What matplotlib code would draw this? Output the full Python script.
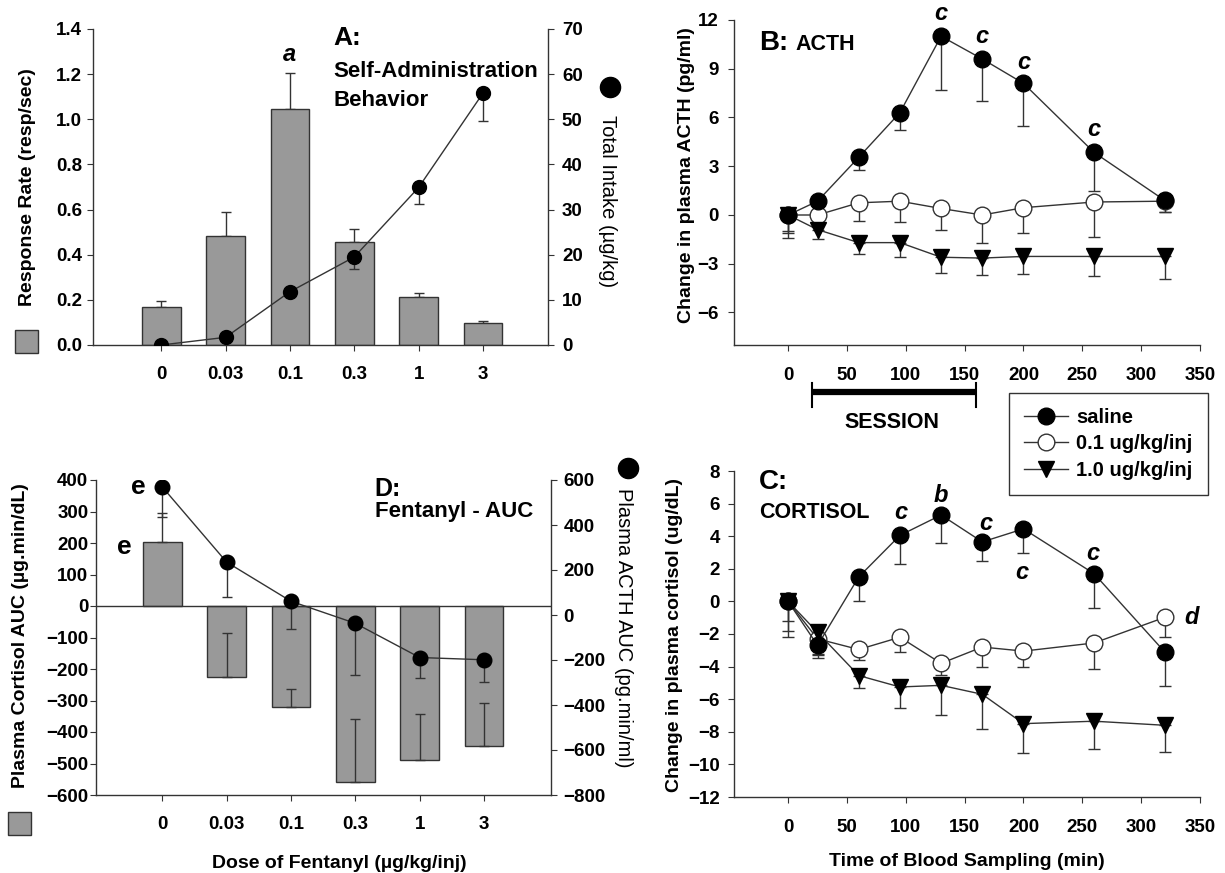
import numpy as np
import matplotlib
matplotlib.use('Agg')
import matplotlib.pyplot as plt
import matplotlib.transforms as mtransforms
from matplotlib.lines import Line2D
from matplotlib.patches import Rectangle

plt.rcParams['font.family'] = ['Liberation Sans', 'DejaVu Sans']
plt.rcParams['font.weight'] = 'bold'
plt.rcParams['axes.linewidth'] = 1.0
plt.rcParams['axes.edgecolor'] = '#333333'
plt.rcParams['xtick.direction'] = 'out'
plt.rcParams['ytick.direction'] = 'out'
plt.rcParams['xtick.major.size'] = 4
plt.rcParams['ytick.major.size'] = 4
plt.rcParams['xtick.color'] = '#333333'
plt.rcParams['ytick.color'] = '#333333'
plt.rcParams['xtick.labelcolor'] = 'black'
plt.rcParams['ytick.labelcolor'] = 'black'

# ---- data -------------------------------------------------------------
doses = ['0', '0.03', '0.1', '0.3', '1', '3']

# panel A: self-administration
rate = [0.167, 0.483, 1.047, 0.457, 0.212, 0.098]
rate_err = [0.030, 0.107, 0.158, 0.057, 0.020, 0.008]
intake = [0.0, 1.7, 11.8, 19.5, 34.9, 55.8]
intake_err = [0.0, 0.0, 0.8, 2.6, 3.7, 6.2]

# panels B and C: time course
times = [0, 25, 60, 95, 130, 165, 200, 260, 320]
acth_sal = [0.0, 0.85, 3.55, 6.3, 11.0, 9.6, 8.1, 3.85, 0.9]
acth_sal_err = [1.0, 0.3, 0.8, 1.05, 3.3, 2.6, 2.65, 2.4, 0.7]
acth_low = [0.0, 0.0, 0.75, 0.85, 0.4, 0.0, 0.45, 0.8, 0.85]
acth_low_err = [1.13, 0.3, 1.1, 1.3, 1.3, 1.75, 1.55, 2.15, 0.65]
acth_high = [0.0, -0.9, -1.7, -1.7, -2.6, -2.65, -2.55, -2.55, -2.55]
acth_high_err = [1.4, 0.6, 0.7, 0.9, 0.95, 1.05, 1.08, 1.2, 1.4]

cort_sal = [0.0, -2.7, 1.5, 4.05, 5.3, 3.65, 4.45, 1.7, -3.1]
cort_sal_err = [1.2, 0.75, 1.5, 1.75, 1.7, 1.2, 1.5, 2.1, 2.1]
cort_low = [0.0, -2.3, -2.95, -2.2, -3.8, -2.8, -3.05, -2.55, -0.98]
cort_low_err = [1.8, 0.9, 0.65, 0.9, 0.7, 1.2, 0.95, 1.6, 1.2]
cort_high = [0.0, -1.9, -4.55, -5.25, -5.15, -5.7, -7.5, -7.35, -7.6]
cort_high_err = [2.2, 1.4, 0.75, 1.3, 1.8, 2.1, 1.8, 1.7, 1.65]

# panel D: AUC
cort_auc = [204, -225, -320, -560, -489, -444]
cort_auc_err = [92, 138, 55, 200, 145, 135]
acth_auc = [569, 235, 61, -37, -189, -199]
acth_auc_err = [134, 156, 125, 228, 91, 98]

W, H = 1225, 873
fig = plt.figure(figsize=(W / 100, H / 100), dpi=100)

DARK = '#333333'
GREY = '#999999'
TICK_FS = 13.5
LAB_FS = 14


def box(l, t, r, b):
    return [l / W, 1 - b / H, (r - l) / W, (b - t) / H]


def down_err(ax, x, y, e, cap=4, z=3):
    ax.errorbar(x, y, yerr=[e, np.zeros(len(e))], fmt='none', ecolor=DARK,
                elinewidth=1, capsize=cap, capthick=1, zorder=z)


def up_err(ax, x, y, e, cap=4, z=3):
    ax.errorbar(x, y, yerr=[np.zeros(len(e)), e], fmt='none', ecolor=DARK,
                elinewidth=1, capsize=cap, capthick=1, zorder=z)


xs = np.arange(len(doses))

# ---- panel A ----------------------------------------------------------
axA = fig.add_axes(box(93, 29, 548, 345))
axA.bar(xs, rate, width=0.6, color=GREY, edgecolor=DARK, linewidth=1, zorder=2)
up_err(axA, xs, rate, rate_err, cap=3.5, z=1.5)
axA.set_xlim(-1.06, 6.01)
axA.set_ylim(0, 1.4)
axA.set_yticks(np.arange(0, 1.41, 0.2))
axA.set_yticklabels(['%.1f' % v for v in np.arange(0, 1.41, 0.2)])
axA.set_xticks(xs)
axA.set_xticklabels(doses)
axA.spines['top'].set_visible(False)
axA.spines['right'].set_visible(False)
axA.tick_params(axis='x', labelsize=TICK_FS, pad=11)
axA.tick_params(axis='y', labelsize=TICK_FS, pad=4)

axA2 = axA.twinx()
axA2.set_ylim(0, 70)
axA2.set_yticks(range(0, 71, 10))
down_err(axA2, xs, intake, intake_err, cap=3.5)
axA2.plot(xs, intake, '-o', color=DARK, lw=1, mfc='black', mec='black', ms=10, zorder=4)
for s in ['top', 'left', 'bottom']:
    axA2.spines[s].set_visible(False)
axA2.tick_params(axis='y', labelsize=TICK_FS, pad=6)

axA.text(2.67, 1.36, 'A:', fontsize=19, va='center')
axA.text(2.67, 1.21, 'Self-Administration', fontsize=16, va='center')
axA.text(2.67, 1.085, 'Behavior', fontsize=16, va='center')
axA.text(2, 1.285, 'a', fontsize=17, style='italic', ha='center', va='center')

# ---- panel B ----------------------------------------------------------
axB = fig.add_axes(box(734, 20, 1200, 345))
down_err(axB, times, acth_sal, acth_sal_err)
down_err(axB, times, acth_low, acth_low_err)
down_err(axB, times, acth_high, acth_high_err)
axB.plot(times, acth_sal, '-o', color=DARK, lw=1, mfc='black', mec='black', ms=12, zorder=5)
axB.plot(times, acth_low, '-o', color=DARK, lw=1, mfc='white', mec=DARK, ms=12, zorder=4)
axB.plot(times, acth_high, '-v', color=DARK, lw=1, mfc='black', mec='black', ms=12, zorder=4)
axB.set_xlim(-46, 350)
axB.set_ylim(-8, 12)
axB.set_xticks(range(0, 351, 50))
axB.set_yticks(range(-6, 13, 3))
axB.spines['top'].set_visible(False)
axB.spines['right'].set_visible(False)
axB.tick_params(axis='x', labelsize=TICK_FS, pad=12)
axB.tick_params(axis='y', labelsize=TICK_FS, pad=7)

axB.text(-25, 10.16, 'B:', fontsize=20, va='baseline')
axB.text(6, 10.16, 'ACTH', fontsize=15.5, va='baseline')
for tx, ty in [(130, 12.43), (165, 11.0), (200, 9.4), (260, 5.24)]:
    axB.text(tx, ty, 'c', fontsize=17, style='italic', ha='center', va='center', clip_on=False)

# session bar below the time axis
trB = mtransforms.blended_transform_factory(axB.transData, axB.transAxes)
axB.plot([20, 160], [-0.145, -0.145], color='black', lw=4.5, transform=trB, clip_on=False,
         solid_capstyle='butt')
for sx in [20, 160]:
    axB.plot([sx, sx], [-0.117, -0.191], color='black', lw=1.5, transform=trB, clip_on=False)
axB.text(88, -0.237, 'SESSION', fontsize=15.5, ha='center', va='center', transform=trB)

# ---- panel C ----------------------------------------------------------
axC = fig.add_axes(box(734, 471, 1200, 797))
down_err(axC, times, cort_sal, cort_sal_err)
down_err(axC, times, cort_low, cort_low_err)
down_err(axC, times, cort_high, cort_high_err)
hs, = axC.plot(times, cort_sal, '-o', color=DARK, lw=1, mfc='black', mec='black', ms=12, zorder=5)
hl, = axC.plot(times, cort_low, '-o', color=DARK, lw=1, mfc='white', mec=DARK, ms=12, zorder=4)
hh, = axC.plot(times, cort_high, '-v', color=DARK, lw=1, mfc='black', mec='black', ms=12, zorder=4)
axC.set_xlim(-46, 350)
axC.set_ylim(-12, 8)
axC.set_xticks(range(0, 351, 50))
axC.set_yticks(range(-12, 9, 2))
axC.spines['top'].set_visible(False)
axC.spines['right'].set_visible(False)
axC.tick_params(axis='x', labelsize=TICK_FS, pad=12)
axC.tick_params(axis='y', labelsize=TICK_FS, pad=6)

axC.text(-25, 7.35, 'C:', fontsize=20, va='center')
axC.text(-25, 5.43, 'CORTISOL', fontsize=15.5, va='center')
for tx, ty, tt in [(96, 5.43, 'c'), (130, 6.47, 'b'), (168, 4.76, 'c'),
                   (199, 1.76, 'c'), (259, 2.92, 'c'), (343, -0.99, 'd')]:
    axC.text(tx, ty, tt, fontsize=17, style='italic', ha='center', va='center')

fig.legend([hs, hl, hh], ['saline', '0.1 ug/kg/inj', '1.0 ug/kg/inj'],
           loc='upper left', bbox_to_anchor=(1009 / W, 1 - 393 / H), borderaxespad=0,
           frameon=True, fancybox=False, framealpha=1, edgecolor=DARK,
           handlelength=2.2, labelspacing=0.36, borderpad=0.75, handletextpad=0.4,
           prop={'weight': 'bold', 'size': 14.5})

# ---- panel D ----------------------------------------------------------
axD = fig.add_axes(box(96, 480, 551, 795))
axD.bar(xs, cort_auc, width=0.6, color=GREY, edgecolor=DARK, linewidth=1, zorder=2)
up_err(axD, xs, cort_auc, cort_auc_err, cap=3.5)
axD.axhline(0, color=DARK, lw=1, zorder=2.5)
axD.set_xlim(-1.03, 6.04)
axD.set_ylim(-600, 400)
axD.set_yticks(range(-600, 401, 100))
axD.set_xticks(xs)
axD.set_xticklabels(doses)
axD.spines['top'].set_visible(False)
axD.spines['right'].set_visible(False)
axD.tick_params(axis='x', labelsize=TICK_FS, pad=11)
axD.tick_params(axis='y', labelsize=TICK_FS, pad=1.5)

axD2 = axD.twinx()
axD2.set_ylim(-800, 600)
axD2.set_yticks(range(-800, 601, 200))
down_err(axD2, xs, acth_auc, acth_auc_err, cap=3.5)
axD2.plot(xs, acth_auc, '-o', color=DARK, lw=1, mfc='black', mec='black', ms=10.5, zorder=4)
for s in ['top', 'left', 'bottom']:
    axD2.spines[s].set_visible(False)
axD2.tick_params(axis='y', labelsize=TICK_FS, pad=5)

axD.text(3.30, 370, 'D:', fontsize=18, va='center')
axD.text(3.30, 300, 'Fentanyl - AUC', fontsize=16, va='center')
axD.text(-0.37, 379, 'e', fontsize=19, ha='center', va='center')
axD.text(-0.59, 188, 'e', fontsize=19, ha='center', va='center')

# ---- outer labels and key symbols -------------------------------------
fig.text(28 / W, 1 - 187 / H, 'Response Rate (resp/sec)', rotation=90,
         fontsize=LAB_FS, ha='center', va='center')
fig.text(608 / W, 1 - 201 / H, 'Total Intake (µg/kg)', rotation=-90,
         fontsize=14.5, fontweight='normal', ha='center', va='center')
fig.text(686 / W, 1 - 175 / H, 'Change in plasma ACTH (pg/ml)', rotation=90,
         fontsize=LAB_FS, ha='center', va='center')
fig.text(21 / W, 1 - 636 / H, 'Plasma Cortisol AUC (µg.min/dL)', rotation=90,
         fontsize=LAB_FS, ha='center', va='center')
fig.text(624 / W, 1 - 628 / H, 'Plasma ACTH AUC (pg.min/ml)', rotation=-90,
         fontsize=14.5, fontweight='normal', ha='center', va='center')
fig.text(674 / W, 1 - 635 / H, 'Change in plasma cortisol (ug/dL)', rotation=90,
         fontsize=LAB_FS, ha='center', va='center')
fig.text(339 / W, 1 - 863 / H, 'Dose of Fentanyl (µg/kg/inj)',
         fontsize=LAB_FS, ha='center', va='center')
fig.text(967 / W, 1 - 862 / H, 'Time of Blood Sampling (min)',
         fontsize=LAB_FS, ha='center', va='center')

fig.add_artist(Line2D([610 / W], [1 - 87 / H], marker='o', ms=14.5, color='black',
                      transform=fig.transFigure))
fig.add_artist(Line2D([628 / W], [1 - 468 / H], marker='o', ms=14.5, color='black',
                      transform=fig.transFigure))
fig.add_artist(Rectangle((15 / W, 1 - 353 / H), 23 / W, 23 / H, facecolor=GREY,
                         edgecolor=DARK, lw=1, transform=fig.transFigure))
fig.add_artist(Rectangle((8 / W, 1 - 835 / H), 23 / W, 23 / H, facecolor=GREY,
                         edgecolor=DARK, lw=1, transform=fig.transFigure))

fig.savefig('out.png', dpi=100)
